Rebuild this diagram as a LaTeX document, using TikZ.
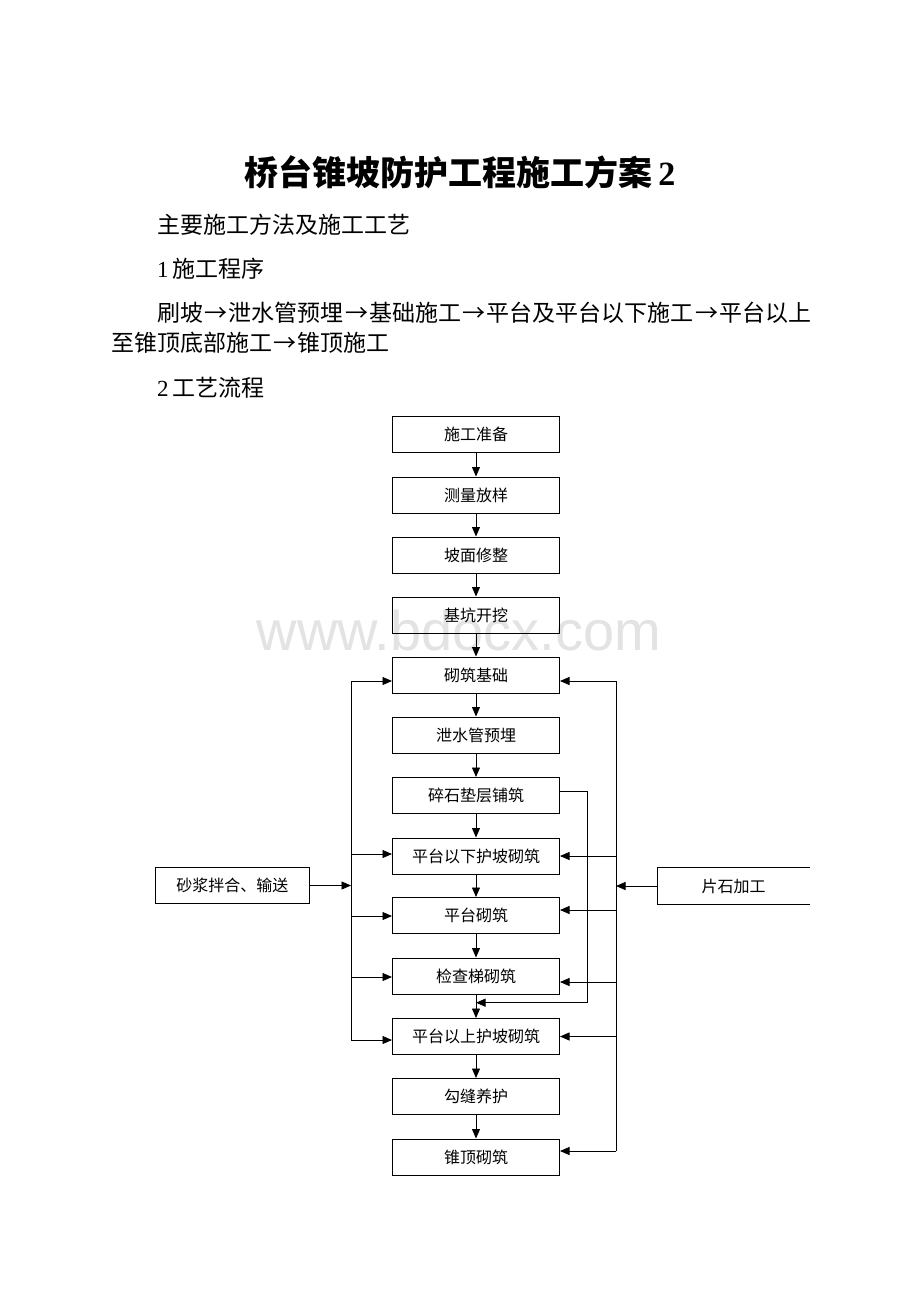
\documentclass[tikz,border=0pt]{standalone}
\usepackage{fontspec}
\newfontfamily\cjk{Noto Sans CJK SC}
\newfontfamily\tms{Liberation Serif}
\newfontfamily\arl{Liberation Sans}
\usetikzlibrary{arrows.meta}
\newcommand{\myarr}{\kern1.3pt→\kern1.3pt}
\tikzset{
  flowbox/.style={draw=black, line width=1pt, minimum width=167pt, minimum height=36pt, inner sep=0pt,
    font=\cjk\fontsize{16}{16}\selectfont},
  sidebox/.style={draw=black, line width=1pt, minimum width=153.5pt, minimum height=36.5pt, inner sep=0pt,
    font=\cjk\fontsize{16}{16}\selectfont},
  openbox/.style={minimum width=152.5pt, minimum height=36pt, inner sep=0pt,
    font=\cjk\fontsize{16}{16}\selectfont},
  conn/.style={line width=0.9pt, draw=black},
  arr/.style={conn, -{Triangle[length=9.5pt,width=8pt]}},
  bodytext/.style={anchor=west, inner sep=0pt, font=\cjk\fontsize{23}{23}\selectfont},
}
\begin{document}
\begin{tikzpicture}[x=1pt,y=-1pt]
\useasboundingbox[fill=white] (0,0) rectangle (920,1302);

% watermark
\node[anchor=base, inner sep=0pt, text=black!11, font=\arl\fontsize{56}{56}\selectfont] (wm) at (459,650) {www.bdocx.com};

% title and text
\node[inner sep=0pt, font=\cjk\bfseries\fontsize{34}{34}\selectfont] (title) at (460,172) {桥台锥坡防护工程施工方案\,{\tms\bfseries 2}};
\node[bodytext] (t1) at (157,225) {主要施工方法及施工工艺};
\node[bodytext] (t2) at (157,269) {{\tms 1}\,施工程序};
\node[bodytext] (t3) at (157,313) {刷坡\myarr 泄水管预埋\myarr 基础施工\myarr 平台及平台以下施工\myarr 平台以上};
\node[bodytext] (t4) at (111,343) {至锥顶底部施工\myarr 锥顶施工};
\node[bodytext] (t5) at (157,388) {{\tms 2}\,工艺流程};

% main column
\node[flowbox] (b1)  at (476,434)  {施工准备};
\node[flowbox] (b2)  at (476,495)  {测量放样};
\node[flowbox] (b3)  at (476,555)  {坡面修整};
\node[flowbox] (b4)  at (476,615)  {基坑开挖};
\node[flowbox] (b5)  at (476,675)  {砌筑基础};
\node[flowbox] (b6)  at (476,735)  {泄水管预埋};
\node[flowbox] (b7)  at (476,795.5) {碎石垫层铺筑};
\node[flowbox] (b8)  at (476,856)  {平台以下护坡砌筑};
\node[flowbox] (b9)  at (476,915.5) {平台砌筑};
\node[flowbox] (b10) at (476,976)  {检查梯砌筑};
\node[flowbox] (b11) at (476,1036.5) {平台以上护坡砌筑};
\node[flowbox] (b12) at (476,1096.5) {勾缝养护};
\node[flowbox] (b13) at (476,1157) {锥顶砌筑};

\foreach \a/\b in {b1/b2,b2/b3,b3/b4,b4/b5,b5/b6,b6/b7,b7/b8,b8/b9,b9/b10,b10/b11,b11/b12,b12/b13}
  \draw[arr] (\a.south) -- (\b.north);

% side boxes
\node[sidebox] (sj) at (232.3,885.5) {砂浆拌合、输送};
\node[openbox] (pj) at (733.7,886) {片石加工};
\draw[conn, line width=1pt] (pj.north east) -- (pj.north west) -- (pj.south west) -- (pj.south east);

% left bus
\coordinate (Ltop) at (351,681);
\coordinate (Lbot) at (351,1040);
\coordinate (Lm)   at (351,885.5);
\draw[conn] (Ltop) -- (Lbot);
\draw[arr] (sj.east) -- (Lm);
\foreach \y/\n in {681/b5, 854/b8, 916/b9, 977/b10, 1040/b11}{
  \coordinate (lp) at (351,\y);
  \draw[arr] (lp) -- (\n.west |- lp);
}

% right bus
\coordinate (Rtop) at (616,681);
\coordinate (Rbot) at (616,1151);
\coordinate (Rm)   at (616,886);
\draw[conn] (Rtop) -- (Rbot);
\draw[arr] (pj.west) -- (Rm);
\foreach \y/\n in {681/b5, 856/b8, 910/b9, 982/b10, 1036.5/b11, 1151/b13}{
  \coordinate (rp) at (616,\y);
  \draw[arr] (rp) -- (\n.east |- rp);
}

% bypass from gravel layer
\coordinate (g1) at (587,791.7);
\coordinate (g2) at (587,1002.7);
\coordinate (g3) at (476,1002.7);
\draw[conn] (b7.east |- g1) -- (g1) -- (g2);
\draw[arr] (g2) -- (g3);
\end{tikzpicture}
\end{document}
